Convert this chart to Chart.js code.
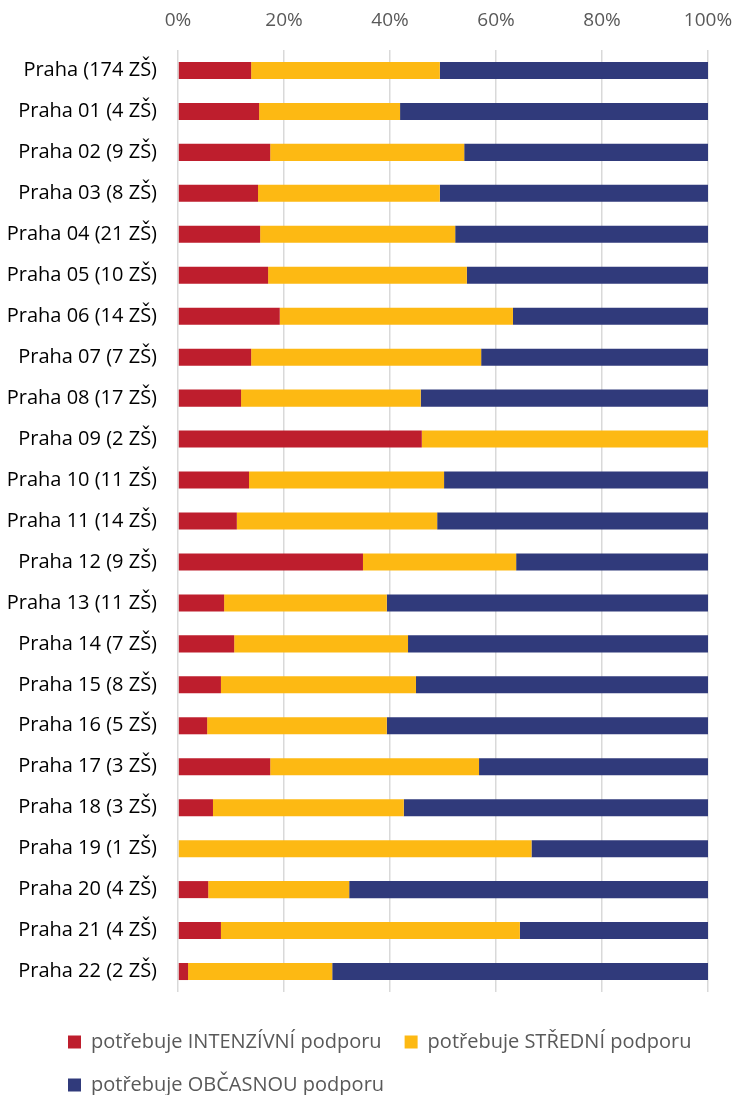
<!DOCTYPE html>
<html>
<head>
<meta charset="utf-8">
<script src="https://cdn.jsdelivr.net/npm/chart.js@4"></script>
<style>
  html, body { margin: 0; padding: 0; background: #fff; }
  #wrap { width: 734px; height: 1095px; }
</style>
</head>
<body>
<div id="wrap"><canvas id="podpora"></canvas></div>
<script>
const categories = [
    'Praha (174 ZŠ)', 'Praha 01 (4 ZŠ)', 'Praha 02 (9 ZŠ)', 'Praha 03 (8 ZŠ)',
    'Praha 04 (21 ZŠ)', 'Praha 05 (10 ZŠ)', 'Praha 06 (14 ZŠ)', 'Praha 07 (7 ZŠ)',
    'Praha 08 (17 ZŠ)', 'Praha 09 (2 ZŠ)', 'Praha 10 (11 ZŠ)', 'Praha 11 (14 ZŠ)',
    'Praha 12 (9 ZŠ)', 'Praha 13 (11 ZŠ)', 'Praha 14 (7 ZŠ)', 'Praha 15 (8 ZŠ)',
    'Praha 16 (5 ZŠ)', 'Praha 17 (3 ZŠ)', 'Praha 18 (3 ZŠ)', 'Praha 19 (1 ZŠ)',
    'Praha 20 (4 ZŠ)', 'Praha 21 (4 ZŠ)', 'Praha 22 (2 ZŠ)'
];
// podíly v %
const intenzivni = [13.8, 15.3, 17.4, 15.1, 15.5, 17.0, 19.2, 13.8, 11.9, 46.0, 13.4, 11.1,
    34.9, 8.7, 10.6, 8.1, 5.5, 17.4, 6.6, 0, 5.7, 8.1, 1.9];
const stredni = [35.6, 26.6, 36.6, 34.3, 36.8, 37.5, 44.0, 43.4, 33.9, 54.0, 36.8, 37.8,
    28.9, 30.7, 32.8, 36.8, 33.9, 39.4, 36.0, 66.7, 26.6, 56.4, 27.2];
const obcasna = [50.6, 58.1, 46.0, 50.6, 47.7, 45.5, 36.8, 42.8, 54.2, 0, 49.8, 51.1,
    36.2, 60.6, 56.6, 55.1, 60.6, 43.2, 57.4, 33.3, 67.7, 35.5, 70.9];
const xTicks = [0, 20, 40, 60, 80, 100];

const fontName = '"Open Sans", Lato, sans-serif';

// posune legendu, aby řádky začínaly vlevo jako v originále
const legendShift = {
    id: 'legendShift',
    afterLayout(chart) {
        chart.legend.left = 45;
    }
};

const ctx = document.getElementById('podpora').getContext('2d');
const chart = new Chart(ctx, {
    type: 'bar',
    data: {
        labels: categories,
        datasets: [
            { label: 'potřebuje INTENZÍVNÍ podporu', data: intenzivni, backgroundColor: '#BE1E2D' },
            { label: 'potřebuje STŘEDNÍ podporu', data: stredni, backgroundColor: '#FDB913' },
            { label: 'potřebuje OBČASNOU podporu', data: obcasna, backgroundColor: '#303A7B' }
        ]
    },
    options: {
        indexAxis: 'y',
        responsive: true,
        maintainAspectRatio: false,
        animation: false,
        layout: {
            padding: { left: 7, right: 0, top: 10, bottom: -10 }
        },
        datasets: {
            bar: {
                categoryPercentage: 0.8,
                barPercentage: 0.52,
                borderWidth: 0
            }
        },
        scales: {
            x: {
                position: 'top',
                stacked: true,
                min: 0,
                max: 100,
                afterBuildTicks: (axis) => {
                    axis.ticks = xTicks.map(v => ({ value: v }));
                },
                afterFit: (axis) => {
                    axis.height = 40;
                    axis.paddingRight = 26;
                    axis.paddingLeft = 0;
                },
                ticks: {
                    callback: (v) => v + '%',
                    color: '#595959',
                    font: { family: fontName, size: 19 },
                    padding: 18
                },
                grid: {
                    color: '#D9D9D9',
                    lineWidth: 1.5,
                    drawTicks: false
                },
                border: { display: false }
            },
            y: {
                stacked: true,
                afterFit: (axis) => {
                    axis.width = 171;
                },
                ticks: {
                    color: '#000000',
                    font: { family: fontName, size: 20 },
                    padding: 21
                },
                grid: { display: false, drawTicks: false },
                border: { display: false }
            }
        },
        plugins: {
            legend: {
                position: 'bottom',
                align: 'start',
                title: {
                    display: true,
                    text: '',
                    font: { size: 10 },
                    padding: { top: 5, bottom: 0 }
                },
                labels: {
                    color: '#595959',
                    boxWidth: 13,
                    boxHeight: 13,
                    padding: 23,
                    font: { family: fontName, size: 20 }
                }
            },
            tooltip: { enabled: false }
        }
    },
    plugins: [legendShift]
});
</script>
</body>
</html>
